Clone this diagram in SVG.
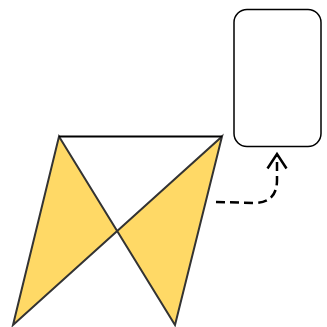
<svg xmlns="http://www.w3.org/2000/svg" width="327" height="327" viewBox="0 0 327 327">
<style>
.shape{fill:#FFD966;stroke:#333;stroke-width:2;stroke-linejoin:miter}
.line{fill:none;stroke:#000;stroke-width:2}
.box{fill:#fff;stroke:#000;stroke-width:1.5}
.conn{fill:none;stroke:#000;stroke-width:2.5;stroke-dasharray:9 5}
.head{fill:none;stroke:#000;stroke-width:2.5}
</style>
<g id="bowtie">
<polygon class="shape" points="59,136.5 175,325 222,136.5 13,325" fill-rule="nonzero"/>
<line class="line" x1="59" y1="136.5" x2="222" y2="136.5"/>
</g>
<g id="box">
<rect class="box" x="234" y="9.5" width="87" height="137" rx="13" ry="13"/>
</g>
<g id="connectors">
<path class="conn" d="M216,202 L254,203 Q277,203 277,180 L277,156"/>
<polyline class="head" points="267.5,168.5 277,154 286.5,168.5"/>
</g>
</svg>
